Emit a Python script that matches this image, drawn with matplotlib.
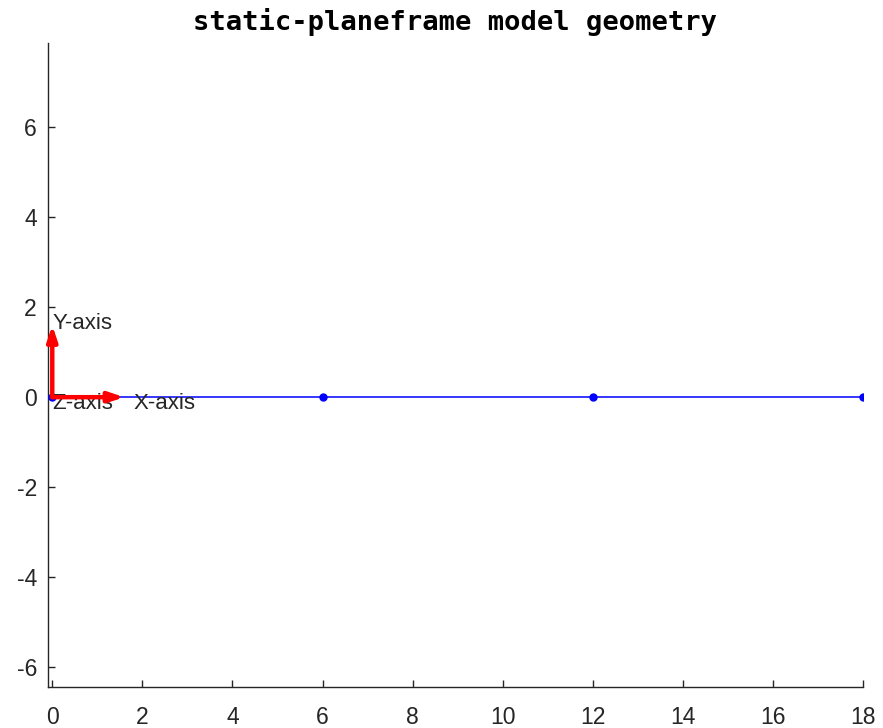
import matplotlib
matplotlib.use("Agg")
import matplotlib.pyplot as plt

plt.rcParams["axes.unicode_minus"] = False

node_x = [0, 6, 12, 18]
node_y = [0, 0, 0, 0]
axis_len = 1.6
xticks = [0, 2, 4, 6, 8, 10, 12, 14, 16, 18]
yticks = [-6, -4, -2, 0, 2, 4, 6]

fig = plt.figure(figsize=(8.83, 7.28), dpi=100)
ax = fig.add_axes([48/883, 1-687/728, (863-48)/883, (687-43)/728])

ax.plot(node_x, node_y, color="#0000ff", lw=1.1, zorder=2)
ax.plot(node_x, node_y, "o", color="#0000ff", ms=5, zorder=3)

astyle = "-|>,head_length=0.9,head_width=0.3"
ax.annotate("", xy=(axis_len, 0), xytext=(0, 0),
            arrowprops=dict(arrowstyle=astyle, color="red", lw=3.2, shrinkA=0, shrinkB=0), zorder=4)
ax.annotate("", xy=(0, axis_len), xytext=(0, 0),
            arrowprops=dict(arrowstyle=astyle, color="red", lw=3.2, shrinkA=0, shrinkB=0), zorder=4)

tk = dict(fontsize=16, color="#262626", va="center", ha="left", family="Liberation Sans")
ax.text(1.8, -0.15, "X-axis", **tk)
ax.text(0.0, 1.64, "Y-axis", **tk)
ax.text(0.0, -0.15, "Z-axis", **tk)

ax.set_xlim(-0.095, 18)
ax.set_ylim(-6.44, 7.87)
ax.set_xticks(xticks)
ax.set_yticks(yticks)
ax.spines["top"].set_visible(False)
ax.spines["right"].set_visible(False)
for s in ["left", "bottom"]:
    ax.spines[s].set_color("#262626")
    ax.spines[s].set_linewidth(1)
ax.tick_params(direction="in", length=5, width=1, colors="#262626", labelsize=16.5)
ax.tick_params(axis="y", pad=8)
ax.tick_params(axis="x", pad=14)
for lbl in ax.get_xticklabels() + ax.get_yticklabels():
    lbl.set_family("Liberation Sans")

ax.set_title("static-planeframe model geometry", fontsize=19.5, fontweight="bold",
             family="DejaVu Sans Mono", pad=9)

fig.savefig("out.png", dpi=100)
